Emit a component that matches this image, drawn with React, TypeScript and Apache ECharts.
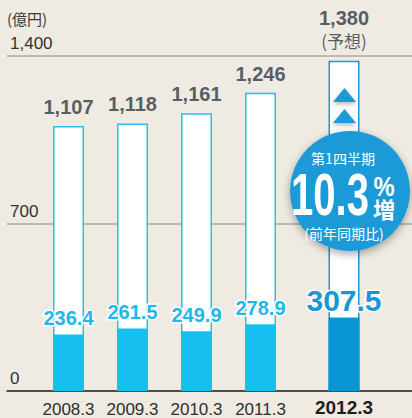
import React, { useEffect, useRef } from "react";
import * as echarts from "echarts";

const categories = ["2008.3", "2009.3", "2010.3", "2011.3"];
const annualTotals = [1107, 1118, 1161, 1246];
const q1Values = [236.4, 261.5, 249.9, 278.9];
const forecastCategory = ["2012.3"];
const forecastTotal = [1380];
const forecastQ1 = [307.5];
const yMin = 0;
const yMax = 1400;
const yInterval = 700;

const FONT = "'Liberation Sans', Arial, 'Noto Sans CJK JP', sans-serif";
const CJK = "'Noto Sans CJK JP', 'Liberation Sans', sans-serif";
const BLUE = "#1a9ad8";

export default function App() {
  const ref = useRef<HTMLDivElement>(null);
  useEffect(() => {
    if (!ref.current) return;
    const chart = echarts.init(ref.current, undefined, { renderer: "svg" });
    const gridBase = { top: 56, bottom: 27, outerBoundsMode: "none", containLabel: false };
    const hiddenY = (i: number) => ({ gridIndex: i, type: "value", min: yMin, max: yMax, interval: yInterval, show: false });
    const fmtTotal = (p: any) => Number(p.value).toLocaleString("en-US");
    const fmtQ1 = (p: any) => Number(p.value).toFixed(1);
    const option: any = {
      backgroundColor: "#efebe2",
      animation: false,
      grid: [
        { ...gridBase, left: 7, right: 0 },
        { ...gridBase, left: 36.5, width: 256 },
        { ...gridBase, left: 312, width: 64 },
      ],
      xAxis: [
        {
          gridIndex: 0, type: "value", min: 0, max: 1,
          axisLine: { show: true, lineStyle: { color: "#2b2b2b", width: 1.5 } },
          axisTick: { show: false }, axisLabel: { show: false }, splitLine: { show: false },
        },
        {
          gridIndex: 1, type: "category", data: categories,
          axisLine: { show: false }, axisTick: { show: false },
          axisLabel: { interval: 0, margin: 10, fontSize: 17, color: "#2e2e2e", fontFamily: FONT },
        },
        {
          gridIndex: 2, type: "category", data: forecastCategory,
          axisLine: { show: false }, axisTick: { show: false },
          axisLabel: { interval: 0, margin: 7, fontSize: 19, fontWeight: "bold", color: "#1e1e1e", fontFamily: FONT },
        },
      ],
      yAxis: [
        {
          gridIndex: 0, type: "value", min: yMin, max: yMax, interval: yInterval,
          name: "(億円)", nameLocation: "end", nameGap: 38,
          nameTextStyle: { align: "left", verticalAlign: "middle", fontSize: 15, color: "#3a3a3a", fontFamily: CJK },
          axisLine: { show: false }, axisTick: { show: false },
          axisLabel: {
            inside: true, margin: 3, verticalAlign: "bottom", padding: [0, 0, 4, 0],
            fontSize: 17, color: "#333", fontFamily: FONT,
            formatter: (v: number) => v.toLocaleString("en-US"),
          },
          splitLine: { show: true, lineStyle: { color: "#a9a9a9", width: 1.5 } },
        },
        hiddenY(1),
        hiddenY(2),
      ],
      series: [
        {
          type: "bar", xAxisIndex: 1, yAxisIndex: 1, data: annualTotals, barWidth: 31, barGap: "-100%",
          itemStyle: { color: "#ffffff", borderColor: "#2bbdee", borderWidth: 1.5 },
          label: { show: true, position: "top", distance: 9, fontSize: 20, fontWeight: "bold", color: "#585e66", fontFamily: FONT, formatter: fmtTotal },
        },
        {
          type: "bar", xAxisIndex: 1, yAxisIndex: 1, data: q1Values, barWidth: 31, barGap: "-100%",
          itemStyle: { color: "#17bff0" },
          label: { show: true, position: "top", distance: 6, fontSize: 20, fontWeight: "bold", color: "#1fb8ea", fontFamily: FONT, textBorderColor: "#ffffff", textBorderWidth: 3, formatter: fmtQ1 },
        },
        {
          type: "bar", xAxisIndex: 2, yAxisIndex: 2, data: forecastTotal, barWidth: 31, barGap: "-100%",
          itemStyle: { color: "#ffffff", borderColor: "#1c98d6", borderWidth: 1.5 },
          label: {
            show: true, position: "top", distance: 9,
            formatter: (p: any) => `{a|${Number(p.value).toLocaleString("en-US")}}\n{b|(予想)}`,
            rich: {
              a: { fontSize: 20, fontWeight: "bold", color: "#585e66", fontFamily: FONT, lineHeight: 23, align: "center" },
              b: { fontSize: 17, color: "#585e66", fontFamily: CJK, lineHeight: 22, align: "center" },
            },
          },
        },
        {
          type: "bar", xAxisIndex: 2, yAxisIndex: 2, data: forecastQ1, barWidth: 31, barGap: "-100%",
          itemStyle: { color: "#0896d5" },
          label: { show: true, position: "top", distance: 2, fontSize: 30, fontWeight: "bold", color: "#1a96d6", fontFamily: FONT, textBorderColor: "#ffffff", textBorderWidth: 3, formatter: fmtQ1 },
        },
      ],
      graphic: [
        {
          type: "polygon", z: 100,
          shape: { points: [[333, 102], [356, 102], [344.5, 88]] },
          style: { fill: BLUE, shadowBlur: 4, shadowColor: "rgba(0,0,0,0.3)", shadowOffsetY: 2 },
        },
        {
          type: "polygon", z: 100,
          shape: { points: [[333, 123], [356, 123], [344.5, 109]] },
          style: { fill: BLUE, shadowBlur: 4, shadowColor: "rgba(0,0,0,0.3)", shadowOffsetY: 2 },
        },
        {
          type: "circle", z: 100,
          shape: { cx: 350, cy: 191, r: 60 },
          style: { fill: BLUE, shadowBlur: 8, shadowColor: "rgba(0,0,0,0.35)", shadowOffsetY: 3 },
        },
        {
          type: "text", z: 101, x: 343, y: 158,
          style: { text: "第1四半期", fill: "#fff", font: `14px ${CJK}`, textAlign: "center", textVerticalAlign: "middle" },
        },
        {
          type: "text", z: 101, x: 330, y: 195, scaleX: 0.68,
          style: { text: "10.3", fill: "#fff", font: `bold 59px ${FONT}`, textAlign: "center", textVerticalAlign: "middle" },
        },
        {
          type: "text", z: 101, x: 384, y: 186, scaleX: 0.85,
          style: { text: "%", fill: "#fff", font: `bold 28px ${FONT}`, textAlign: "center", textVerticalAlign: "middle" },
        },
        {
          type: "text", z: 101, x: 384, y: 208,
          style: { text: "増", fill: "#fff", font: `bold 22px ${CJK}`, textAlign: "center", textVerticalAlign: "middle" },
        },
        {
          type: "text", z: 101, x: 344, y: 233,
          style: { text: "(前年同期比)", fill: "#fff", font: `14px ${CJK}`, textAlign: "center", textVerticalAlign: "middle" },
        },
      ],
    };
    chart.setOption(option);
    return () => chart.dispose();
  }, []);
  return <div ref={ref} style={{ position: "fixed", left: 0, top: 0, width: 412, height: 418 }} />;
}
